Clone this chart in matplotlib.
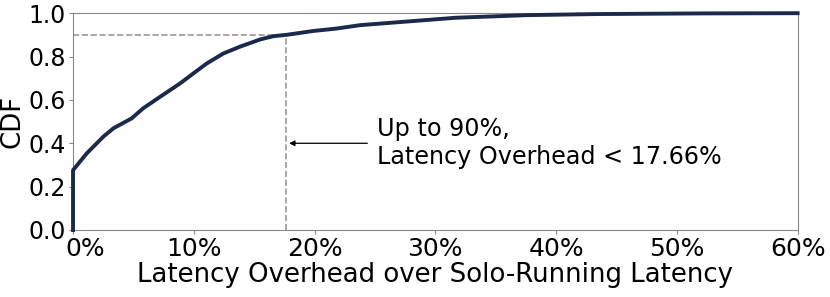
import matplotlib
matplotlib.use("Agg")
import matplotlib.pyplot as plt
import matplotlib.transforms as mtransforms
import numpy as np

# Data
overhead_pct = [0.0, 0.0, 1.13, 2.5, 3.34, 4.86, 5.8, 7.2, 8.86, 9.96, 11.07, 12.44,
                13.8, 15.5, 16.6, 17.66, 19.9, 21.8, 23.8, 25.9, 31.7, 37.6, 43.4,
                52.2, 60.0]
cdf = [0.0, 0.276, 0.353, 0.43, 0.469, 0.515, 0.561, 0.614, 0.676, 0.722, 0.768,
       0.814, 0.845, 0.879, 0.894, 0.90, 0.918, 0.929, 0.945, 0.954, 0.979, 0.991,
       0.996, 0.999, 1.0]
p90_x = 17.66
p90_y = 0.9
xticks = [0, 10, 20, 30, 40, 50, 60]
xticklabels = ["0%", "10%", "20%", "30%", "40%", "50%", "60%"]
yticks = [0.0, 0.2, 0.4, 0.6, 0.8, 1.0]
annot_text = "Up to 90%,\nLatency Overhead < 17.66%"

fig = plt.figure(figsize=(8.3, 2.97), dpi=100)
ax = fig.add_axes([0.088, 0.2256, 0.873, 0.730])

ax.plot(overhead_pct, cdf, color="#1b2a4a", lw=2.8, clip_on=False, zorder=3)
ax.plot([0, p90_x], [p90_y, p90_y], ls="--", color="#999999", lw=1.2, zorder=2)
ax.plot([p90_x, p90_x], [0, p90_y], ls="--", color="#999999", lw=1.2, zorder=2)

ax.annotate("", xy=(p90_x, 0.40), xytext=(24.6, 0.40),
            arrowprops=dict(arrowstyle="-|>", color="black", lw=0.9, mutation_scale=8))
ax.text(25.2, 0.40, annot_text, fontsize=17.2, va="center", ha="left")

ax.set_xlim(0, 60)
ax.set_ylim(0, 1.0)
ax.set_xticks(xticks)
ax.set_xticklabels(xticklabels, fontsize=18)
ax.set_yticks(yticks)
ax.set_yticklabels([f"{v:.1f}" for v in yticks], fontsize=17)
ax.set_xlabel("Latency Overhead over Solo-Running Latency", fontsize=18.7, labelpad=1)
ax.set_ylabel("CDF", fontsize=18.7, labelpad=2)

for s in ax.spines.values():
    s.set_color("#888888")
ax.tick_params(colors="#888888", labelcolor="black", length=3, pad=2)

# shift the first x tick label slightly right as in the reference
lbl0 = ax.get_xticklabels()[0]
lbl0.set_transform(lbl0.get_transform() + mtransforms.ScaledTranslation(12/100, 0, fig.dpi_scale_trans))

fig.savefig("out.png", dpi=100)
